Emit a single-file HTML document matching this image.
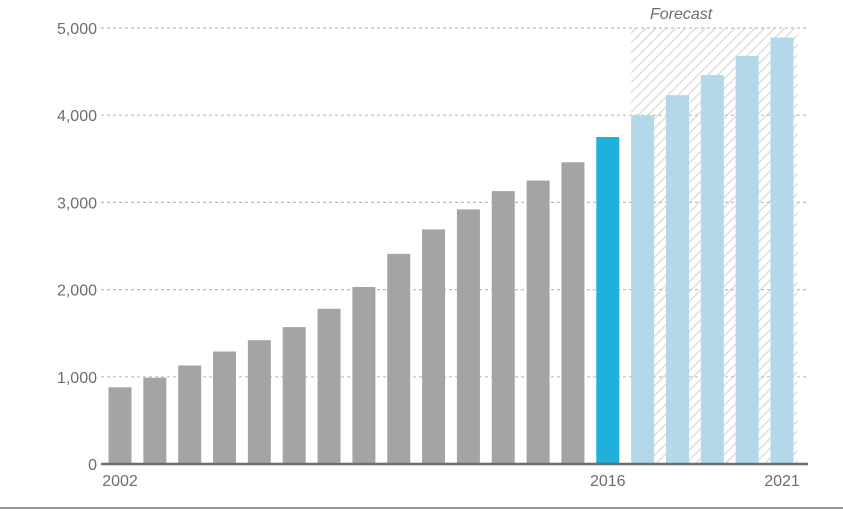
<!DOCTYPE html>
<html><head><meta charset="utf-8"><style>
body{margin:0;background:#fff;width:843px;height:510px;overflow:hidden;font-family:"Liberation Sans",sans-serif}
svg text{font-family:"Liberation Sans",sans-serif;fill:#6d6d6d;font-size:16px}
</style></head><body>
<svg width="843" height="510">
<defs><pattern id="hatch" patternUnits="userSpaceOnUse" width="7" height="7" patternTransform="rotate(45)"><rect width="7" height="7" fill="#fff"/><line x1="0" y1="0" x2="0" y2="7" stroke="#d8d8d8" stroke-width="2.5"/></pattern></defs>
<g id="forecast"></g><g id="grid"></g><g id="bars"></g><g id="labels"></g>
<line x1="0" y1="508" x2="843" y2="508" stroke="#999" stroke-width="2"/>
</svg>
<script>
const years=[2002,2003,2004,2005,2006,2007,2008,2009,2010,2011,2012,2013,2014,2015,2016,2017,2018,2019,2020,2021];
const values=[880,990,1130,1290,1420,1570,1780,2030,2410,2690,2920,3130,3250,3460,3750,4000,4230,4460,4680,4890];
const yTicks=[0,1000,2000,3000,4000,5000];
const yTickLabels=["0","1,000","2,000","3,000","4,000","5,000"];
const xLabelYears=[2002,2016,2021];
const highlightYear=2016, forecastStart=2017;
const NS="http://www.w3.org/2000/svg";
const y=v=>464-v*436/5000;
const x=i=>120+i*(782-120)/(years.length-1);
const bw=23;
function mk(t,a,p){const e=document.createElementNS(NS,t);for(const k in a)e.setAttribute(k,a[k]);p.appendChild(e);return e;}
const fg=document.getElementById('forecast');
const fi=years.indexOf(forecastStart);
const fr=mk('rect',{x:x(fi)-bw/2,y:y(5000),width:x(years.length-1)+bw/2+4-(x(fi)-bw/2),height:y(0)-y(5000),fill:'url(#hatch)'},fg);


const ft=mk('text',{x:x(fi)+bw/2+27,y:19,'text-anchor':'middle','font-style':'italic',fill:'#8a8a8a'},fg);ft.textContent='Forecast';


const gg=document.getElementById('grid');
yTicks.forEach((t,i)=>{
 if(t>0){const l=mk('line',{x1:101,x2:808,y1:y(t),y2:y(t),stroke:'#bdbdbd','stroke-width':1.2,'stroke-dasharray':'3,3'},gg);
 
 }
 const tx=mk('text',{x:97,y:y(t)+6,'text-anchor':'end'},gg);tx.textContent=yTickLabels[i];
 
 
});
const bg=document.getElementById('bars');
years.forEach((yr,i)=>{
 const c=yr===highlightYear?'#1fb0dc':(yr>=forecastStart?'#b2d8ea':'#a3a4a6');
 const r=mk('rect',{x:x(i)-bw/2,y:y(values[i]),width:bw,height:y(0)-y(values[i]),fill:c},bg);
 
 
});
const ax=mk('line',{x1:101,x2:808,y1:464,y2:464,stroke:'#6d6d6d','stroke-width':2.5},bg);


const lg=document.getElementById('labels');
xLabelYears.forEach(yr=>{
 const i=years.indexOf(yr);
 const t=mk('text',{x:x(i),y:486,'text-anchor':'middle',fill:yr===highlightYear?'#1fb0dc':'#6d6d6d'},lg);t.textContent=yr;
 
 
});
</script>
</body></html>
